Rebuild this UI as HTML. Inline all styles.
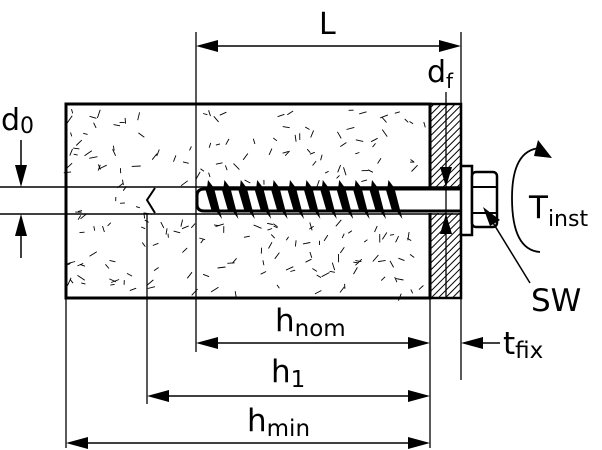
<!DOCTYPE html>
<html><head><meta charset="utf-8"><style>
html,body{margin:0;padding:0;background:#fff;}
svg{display:block;}
text{font-family:"DejaVu Sans","Liberation Sans",sans-serif;fill:#000;}
</style></head><body>
<svg id="s" width="602" height="450" viewBox="0 0 602 450" xmlns="http://www.w3.org/2000/svg">
<defs>
<pattern id="hat" width="5" height="5" patternUnits="userSpaceOnUse" patternTransform="rotate(45)">
<line x1="0" y1="0" x2="0" y2="5" stroke="#000" stroke-width="2"/>
</pattern>
</defs>
<g id="speck" stroke="#000" stroke-width="0.9"></g>
<!-- concrete -->
<rect x="66" y="104" width="364" height="194" fill="none" stroke="#000" stroke-width="3"/>
<!-- plate -->
<rect x="430" y="104" width="31" height="194" fill="url(#hat)" stroke="#000" stroke-width="2.5"/>
<!-- hole / shaft region white -->
<rect x="147" y="188" width="314" height="25" fill="#fff"/>
<line x1="0" y1="187" x2="461" y2="187" stroke="#000" stroke-width="1.5"/>
<line x1="0" y1="214" x2="461" y2="214" stroke="#000" stroke-width="1.5"/>
<path d="M155,188 L147,200 L155,213" fill="none" stroke="#000" stroke-width="2"/>
<!-- screw shaft -->
<path d="M204,189 L461,189 M461,211 L204,211 Q197,211 197,204 L197,196 Q197,189 204,189" fill="none" stroke="#000" stroke-width="3"/>
<g id="thr" fill="#000"></g>
<!-- washer and nut -->
<rect x="461" y="166" width="11" height="69" fill="#fff" stroke="#000" stroke-width="2.5"/>
<rect x="472" y="172" width="25" height="55" rx="4" fill="#fff" stroke="#000" stroke-width="2.5"/>
<line x1="472" y1="187" x2="497" y2="187" stroke="#000" stroke-width="2"/>
<line x1="472" y1="213" x2="497" y2="213" stroke="#000" stroke-width="2"/>
<!-- extension lines -->
<g stroke="#000" stroke-width="1.3">
<line x1="196" y1="32" x2="196" y2="352"/>
<line x1="461" y1="32" x2="461" y2="380"/>
<line x1="66" y1="298" x2="66" y2="448"/>
<line x1="430" y1="298" x2="430" y2="448"/>
<line x1="147" y1="214" x2="147" y2="404"/>
<line x1="446" y1="92" x2="446" y2="298"/>
</g>
<!-- dimension lines -->
<g stroke="#000" stroke-width="1.5" fill="none">
<line x1="216" y1="46" x2="441" y2="46"/>
<line x1="216" y1="343" x2="410" y2="343"/>
<line x1="167" y1="396" x2="410" y2="396"/>
<line x1="86" y1="443" x2="410" y2="443"/>
<line x1="481" y1="343" x2="500" y2="343"/>
<line x1="21" y1="140" x2="21" y2="170"/>
<line x1="21" y1="232" x2="21" y2="258"/>
</g>
<g fill="#000">
<path d="M196,46 L218,40 L218,52Z"/><path d="M461,46 L439,40 L439,52Z"/>
<path d="M196,343 L218,337 L218,349Z"/><path d="M430,343 L408,337 L408,349Z"/>
<path d="M147,396 L169,390 L169,402Z"/><path d="M430,396 L408,390 L408,402Z"/>
<path d="M66,443 L88,437 L88,449Z"/><path d="M430,443 L408,437 L408,449Z"/>
<path d="M461,343 L483,337 L483,349Z"/>
<path d="M21,187 L15,165 L27,165Z"/><path d="M21,214 L15,236 L27,236Z"/>
<path d="M446,187 L440,167 L452,167Z"/><path d="M446,214 L440,234 L452,234Z"/>
</g>
<!-- torque arc -->
<path d="M540,148 Q512,150 512,198 Q512,250 540,252" fill="none" stroke="#000" stroke-width="1.8"/>
<path d="M552,158 L538,140 L534,156Z" fill="#000"/>
<!-- SW leader -->
<line x1="487" y1="213" x2="530" y2="283" stroke="#000" stroke-width="1.5"/>
<path d="M483,207 L500,220 L490,226Z" fill="#000"/>
<!-- labels -->
<text x="319" y="34" font-size="30">L</text>
<text x="427" y="82" font-size="30">d<tspan font-size="20" dy="6">f</tspan></text>
<text x="1" y="130" font-size="30">d<tspan font-size="22" dy="3">0</tspan></text>
<text x="529" y="218" font-size="31">T<tspan font-size="22" dy="8">inst</tspan></text>
<text x="531" y="311" font-size="31">SW</text>
<text x="275" y="331" font-size="31">h<tspan font-size="23" dy="5">nom</tspan></text>
<text x="271" y="382" font-size="31">h<tspan font-size="23" dy="5">1</tspan></text>
<text x="247" y="431" font-size="31">h<tspan font-size="23" dy="5">min</tspan></text>
<text x="503" y="354" font-size="31">t<tspan font-size="23" dy="4">fix</tspan></text>
</svg>
<script>
(function(){
var ns="http://www.w3.org/2000/svg";
var g=document.getElementById("speck");
var seed=7;function r(){seed=(seed*16807)%2147483647;return seed/2147483647;}
for(var i=0;i<260;i++){
 var x=70+r()*356,y=108+r()*186;
 if(y>182&&y<219&&x>145)continue;
 var a=r()*Math.PI,l=4+r()*5;
 var ln=document.createElementNS(ns,"line");
 ln.setAttribute("x1",x.toFixed(1));ln.setAttribute("y1",y.toFixed(1));
 ln.setAttribute("x2",(x+Math.cos(a)*l).toFixed(1));ln.setAttribute("y2",(y+Math.sin(a)*l).toFixed(1));
 g.appendChild(ln);
}
var t=document.getElementById("thr");
for(var k=0;k<12;k++){
 var x0=208+k*16.4;
 var p=document.createElementNS(ns,"path");
 p.setAttribute("d","M"+x0+",180 L"+(x0+6)+",188 L"+(x0+14)+",219 L"+(x0+8)+",211 L"+(x0-1)+",188 Z");
 t.appendChild(p);
 var p2=document.createElementNS(ns,"path");
 p2.setAttribute("d","M"+(x0-3)+",188 L"+(x0+5)+",188 L"+(x0+12)+",212 L"+(x0+4)+",212 Z");
 t.appendChild(p2);
}
})();
</script>
</body></html>
